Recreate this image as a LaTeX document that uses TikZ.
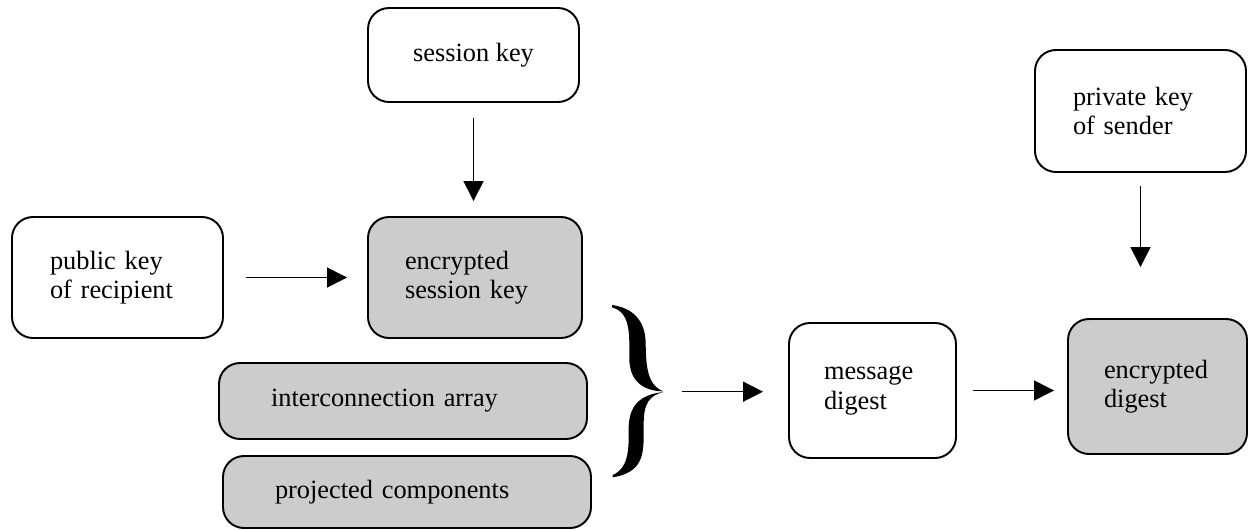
\documentclass[tikz,border=0pt]{standalone}
\usepackage{fontspec}
\setmainfont{Liberation Serif}
\usetikzlibrary{arrows.meta, positioning}

\definecolor{boxgrey}{RGB}{204,204,204}

\tikzset{
    keybox/.style={draw=black, line width=1.1pt, rounded corners=0.42cm, align=left, inner ysep=0pt, font=\fontsize{15}{16.8}\selectfont},
    greybox/.style={keybox, fill=boxgrey},
    flow/.style={black, line width=0.85pt, -{Triangle[length=0.4cm, width=0.4cm]}}
}

\begin{document}
\begin{tikzpicture}
\useasboundingbox (0,0) rectangle (24.96,10.58);

% keys on top
\node[keybox, align=center, minimum width=4.22cm, minimum height=1.88cm] (sessionKey) at (9.47, 9.48) {session key};
\node[keybox, inner xsep=0.76cm, text width=2.70cm, minimum height=2.44cm] (privateKey) at (22.81, 8.36) {private key\\of sender};

% encrypting the session key
\node[keybox, inner xsep=0.76cm, text width=2.70cm, minimum height=2.42cm] (publicKey) at (2.35, 5.03) {public key\\of recipient};
\node[greybox, inner xsep=0.74cm, text width=2.80cm, minimum height=2.42cm] (encSessionKey) at (9.50, 5.03) {encrypted\\session key};
\node[greybox, inner xsep=1.04cm, text width=5.28cm, minimum height=1.52cm] (interArray) at (8.06, 2.56) {interconnection array};
\node[greybox, inner xsep=1.04cm, text width=5.28cm, minimum height=1.44cm] (projComp) at (8.14, 0.74) {projected components};

% big curly brace round the three parts
\begin{scope}[shift={(12.0,4.58)}, x=0.00667cm, y=-0.00667cm]
\fill[black] (36,15) .. controls (98,24) and (136,60) .. (137,130)
    .. controls (138,200) and (142,255) .. (190,274)
    .. controls (126,273) and (88,240) .. (88,175)
    .. controls (88,100) and (92,38) .. (36,22) -- cycle;
\fill[black] (190,276) .. controls (132,291) and (130,330) .. (131,400)
    .. controls (132,472) and (122,518) .. (38,532)
    -- (38,525) .. controls (82,505) and (87,460) .. (86,390)
    .. controls (85,318) and (118,284) .. (190,276) -- cycle;
\coordinate (braceTip) at (190,275);
\end{scope}

% digest of everything
\node[keybox, inner xsep=0.70cm, text width=1.94cm, minimum height=2.70cm] (msgDigest) at (17.45, 2.77) {message\\digest};
\node[greybox, inner xsep=0.72cm, text width=2.14cm, minimum height=2.70cm] (encDigest) at (23.15, 2.85) {encrypted\\digest};

\draw[flow, shorten <=0.3cm, shorten >=0.3cm] (sessionKey.south) -- (sessionKey.south |- encSessionKey.north);
\draw[flow, shorten <=0.44cm, shorten >=0.4cm] (publicKey.east) -- (publicKey.east -| encSessionKey.west);
\draw[flow, shorten <=0.38cm, shorten >=0.5cm] (braceTip) -- (braceTip -| msgDigest.west);
\draw[flow, shorten <=0.32cm, shorten >=0.26cm] (msgDigest.east) -- (msgDigest.east -| encDigest.west);
\draw[flow, shorten <=0.26cm, shorten >=1.02cm] (privateKey.south) -- (privateKey.south |- encDigest.north);

\end{tikzpicture}
\end{document}
